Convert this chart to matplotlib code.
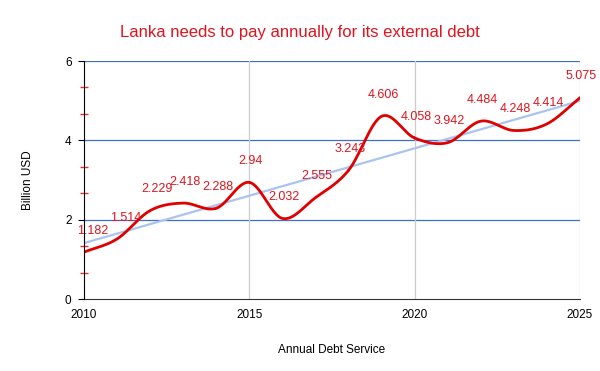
import numpy as np
import matplotlib
matplotlib.use("Agg")
import matplotlib.pyplot as plt

years = [2010, 2011, 2012, 2013, 2014, 2015, 2016, 2017, 2018, 2019, 2020, 2021, 2022, 2023, 2024, 2025]
values = [1.182, 1.514, 2.229, 2.418, 2.288, 2.94, 2.032, 2.555, 3.243, 4.606, 4.058, 3.942, 4.484, 4.248, 4.414, 5.075]
labels = ["1.182", "1.514", "2.229", "2.418", "2.288", "2.94", "2.032", "2.555", "3.243", "4.606",
          "4.058", "3.942", "4.484", "4.248", "4.414", "5.075"]
xticks = [2010, 2015, 2020, 2025]
yticks = [0, 2, 4, 6]

plt.rcParams['font.family'] = ['Liberation Sans', 'DejaVu Sans']

fig = plt.figure(figsize=(6, 3.71), dpi=100)
ax = fig.add_axes([84/600, 1-299/371, (580-84)/600, (299-61)/371])

# smooth curve (Catmull-Rom)
x = np.array(years, float)
y = np.array(values, float)
px = np.concatenate([[2*x[0]-x[1]], x, [2*x[-1]-x[-2]]])
py = np.concatenate([[2*y[0]-y[1]], y, [2*y[-1]-y[-2]]])
sx, sy = [], []
t = np.linspace(0, 1, 30)
for i in range(1, len(px)-2):
    p0, p1, p2, p3 = py[i-1], py[i], py[i+1], py[i+2]
    q0, q1, q2, q3 = px[i-1], px[i], px[i+1], px[i+2]
    def cr(a0, a1, a2, a3):
        return 0.5*((2*a1) + (-a0+a2)*t + (2*a0-5*a1+4*a2-a3)*t**2 + (-a0+3*a1-3*a2+a3)*t**3)
    sx.append(cr(q0, q1, q2, q3)); sy.append(cr(p0, p1, p2, p3))
sx = np.concatenate(sx); sy = np.concatenate(sy)

# trendline
m, b = np.polyfit(x, y, 1)
ax.plot(x, m*x+b, color='#a9c4f0', lw=1.6, zorder=2)
ax.plot(sx, sy, color='#e00000', lw=2.0, zorder=3, solid_capstyle='round')

offsets = {0: (6, 11), 1: (6, 11), 2: (5, 11)}
for i, (xx, yy, lab) in enumerate(zip(years, values, labels)):
    dx, dy = offsets.get(i, (1, 11))
    ax.annotate(lab, (xx, yy), xytext=(dx, dy), textcoords='offset points',
                ha='center', va='bottom', color='#e0141e', fontsize=9, zorder=4,
                annotation_clip=False)

ax.set_xlim(2010, 2025)
ax.set_ylim(0, 6)
ax.set_xticks(xticks)
ax.set_yticks(yticks)
ax.set_yticks([2/3*k for k in range(1, 9) if k % 3 != 0], minor=True)
ax.tick_params(axis='y', which='minor', length=6, color='#e83030', direction='inout', width=1)
ax.tick_params(axis='y', which='major', length=4, color='black', labelsize=8.5, pad=5)
ax.tick_params(axis='x', which='major', length=0, labelsize=8.5, pad=7)

for yv in [2, 4, 6]:
    ax.axhline(yv, color='#3c6fcc', lw=0.9, zorder=1)
for xv in [2015, 2020, 2025]:
    ax.axvline(xv, color='#cccccc', lw=0.9, zorder=1)

for s in ['top', 'right']:
    ax.spines[s].set_visible(False)
ax.spines['left'].set_color('black')
ax.spines['bottom'].set_color('#333333')
ax.spines['left'].set_zorder(5)

ax.set_xlabel('Annual Debt Service', fontsize=8.5, labelpad=17)
ax.set_ylabel('Billion USD', fontsize=8.5, labelpad=22)

fig.text(0.5, 1-32/371, 'Lanka needs to pay annually for its external debt', color='#e0141e',
         fontsize=12, ha='center', va='center')

fig.savefig('out.png', dpi=100)
